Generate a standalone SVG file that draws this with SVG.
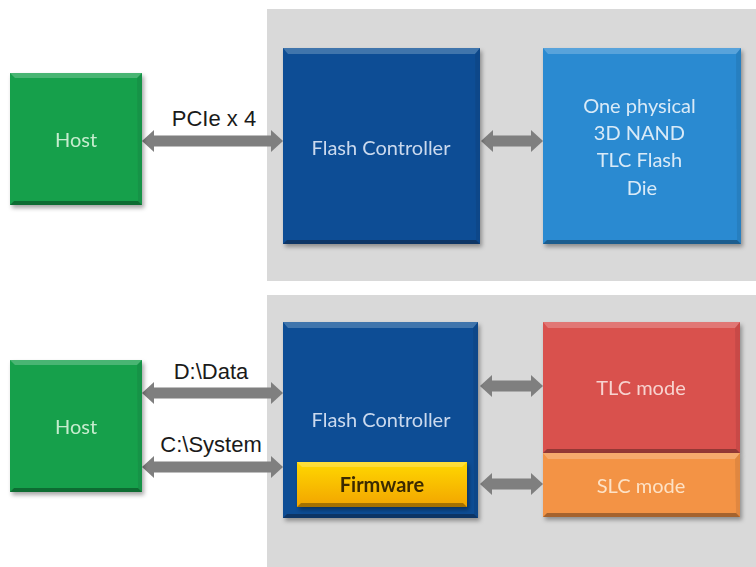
<svg xmlns="http://www.w3.org/2000/svg" width="756" height="567" viewBox="0 0 756 567">
  <style>
    .panel { fill: #d9d9d9; }
    .box { filter: url(#shadow); }
    .hi { fill: #ffffff; fill-opacity: 0.22; }
    .lo { fill: #000000; fill-opacity: 0.32; }
    .side { fill: #000000; fill-opacity: 0.08; }
    .in { font-family: Lato, "Open Sans", sans-serif; font-size: 20px; text-anchor: middle; }
    .lbl { font-family: "Liberation Sans", Arial, sans-serif; font-size: 22px; fill: #1a1a1a; text-anchor: middle; }
    .wire { stroke: #7f7f7f; stroke-width: 11; marker-start: url(#head); marker-end: url(#head); }
  </style>
  <defs>
    <filter id="shadow" x="-10%" y="-10%" width="125%" height="125%">
      <feDropShadow dx="2" dy="3" stdDeviation="2" flood-color="#000" flood-opacity="0.35"/>
    </filter>
    <marker id="head" viewBox="0 0 12 22" markerWidth="12" markerHeight="22" refX="0" refY="11" markerUnits="userSpaceOnUse" orient="auto-start-reverse">
      <path d="M0,0 L12,11 L0,22 Z" fill="#7f7f7f"/>
    </marker>
    <linearGradient id="fwGrad" x1="0" y1="0" x2="0" y2="1">
      <stop offset="0" stop-color="#ffd800"/>
      <stop offset="1" stop-color="#f2a400"/>
    </linearGradient>
  </defs>

  <!-- background -->
  <rect x="0" y="0" width="756" height="567" fill="#ffffff"/>
  <rect class="panel" x="267" y="9" width="489" height="272"/>
  <rect class="panel" x="267" y="295" width="489" height="272"/>

  <!-- connectors -->
  <g id="connectors">
    <line class="wire" x1="154" y1="141" x2="271" y2="141"/>
    <line class="wire" x1="493" y1="141" x2="531" y2="141"/>
    <line class="wire" x1="154" y1="393" x2="271" y2="393"/>
    <line class="wire" x1="154" y1="467" x2="271" y2="467"/>
    <line class="wire" x1="492" y1="386" x2="531" y2="386"/>
    <line class="wire" x1="492" y1="484" x2="531" y2="484"/>
    <text class="lbl" x="214" y="126">PCIe x 4</text>
    <text class="lbl" x="211" y="379">D:\Data</text>
    <text class="lbl" x="211" y="452">C:\System</text>
  </g>

  <!-- top row -->
  <g id="host-top" class="box">
    <rect x="10" y="73" width="132" height="132" fill="#17a04c"/>
    <polygon class="hi" points="10,73 142,73 137,78 15,78"/>
    <polygon class="lo" points="10,205 142,205 138,201 14,201"/>
    <polygon class="side" points="142,73 142,205 138,201 137,78"/>
    <text class="in" x="76" y="147" fill="#c6ecce">Host</text>
  </g>

  <g id="controller-top" class="box">
    <rect x="283" y="48" width="197" height="196" fill="#0c4e95"/>
    <polygon class="hi" points="283,48 480,48 475,54 288,54"/>
    <polygon class="lo" points="283,244 480,244 476,240 287,240"/>
    <polygon class="side" points="480,48 480,244 476,240 475,54"/>
    <text class="in" x="381" y="155" fill="#cbd9ee">Flash Controller</text>
  </g>

  <g id="nand-die" class="box">
    <rect x="543" y="48" width="198" height="196" fill="#2b8ad1"/>
    <polygon class="hi" points="543,48 741,48 736,54 548,54"/>
    <polygon class="lo" points="543,244 741,244 737,240 547,240"/>
    <polygon class="side" points="741,48 741,244 737,240 736,54"/>
    <text class="in" fill="#d9eaf7">
      <tspan x="642" y="113">One physical</tspan>
      <tspan x="642" y="140">3D NAND</tspan>
      <tspan x="642" y="167">TLC Flash</tspan>
      <tspan x="642" y="195">Die</tspan>
    </text>
  </g>

  <!-- bottom row -->
  <g id="host-bottom" class="box">
    <rect x="10" y="360" width="132" height="132" fill="#17a04c"/>
    <polygon class="hi" points="10,360 142,360 137,365 15,365"/>
    <polygon class="lo" points="10,492 142,492 138,488 14,488"/>
    <polygon class="side" points="142,360 142,492 138,488 137,365"/>
    <text class="in" x="76" y="434" fill="#c6ecce">Host</text>
  </g>

  <g id="controller-bottom" class="box">
    <rect x="283" y="322" width="195" height="196" fill="#0c4e95"/>
    <polygon class="hi" points="283,322 478,322 473,328 288,328"/>
    <polygon class="lo" points="283,518 478,518 474,514 287,514"/>
    <polygon class="side" points="478,322 478,518 474,514 473,328"/>
    <text class="in" x="381" y="427" fill="#cbd9ee">Flash Controller</text>
  </g>

  <g id="firmware" class="box">
    <rect x="297" y="462" width="170" height="45" fill="url(#fwGrad)"/>
    <polygon class="hi" points="297,462 467,462 462,467 302,467"/>
    <polygon class="lo" points="297,507 467,507 463,503 301,503"/>
    <text class="in" x="382" y="492" fill="#3b2a06" font-weight="bold">Firmware</text>
  </g>

  <g id="tlc-mode" class="box">
    <rect x="543" y="322" width="197" height="131" fill="#d9514e"/>
    <polygon class="hi" points="543,322 740,322 735,328 548,328"/>
    <polygon class="lo" points="543,453 740,453 736,449 547,449"/>
    <polygon class="side" points="740,322 740,453 736,449 735,328"/>
    <text class="in" x="641" y="395" fill="#f7d3cf">TLC mode</text>
  </g>

  <g id="slc-mode" class="box">
    <rect x="543" y="453" width="197" height="64" fill="#f39345"/>
    <polygon class="hi" points="543,453 740,453 735,459 548,459"/>
    <polygon class="lo" points="543,517 740,517 736,513 547,513"/>
    <polygon class="side" points="740,453 740,517 736,513 735,459"/>
    <text class="in" x="641" y="493" fill="#fde2c6">SLC mode</text>
  </g>
</svg>
